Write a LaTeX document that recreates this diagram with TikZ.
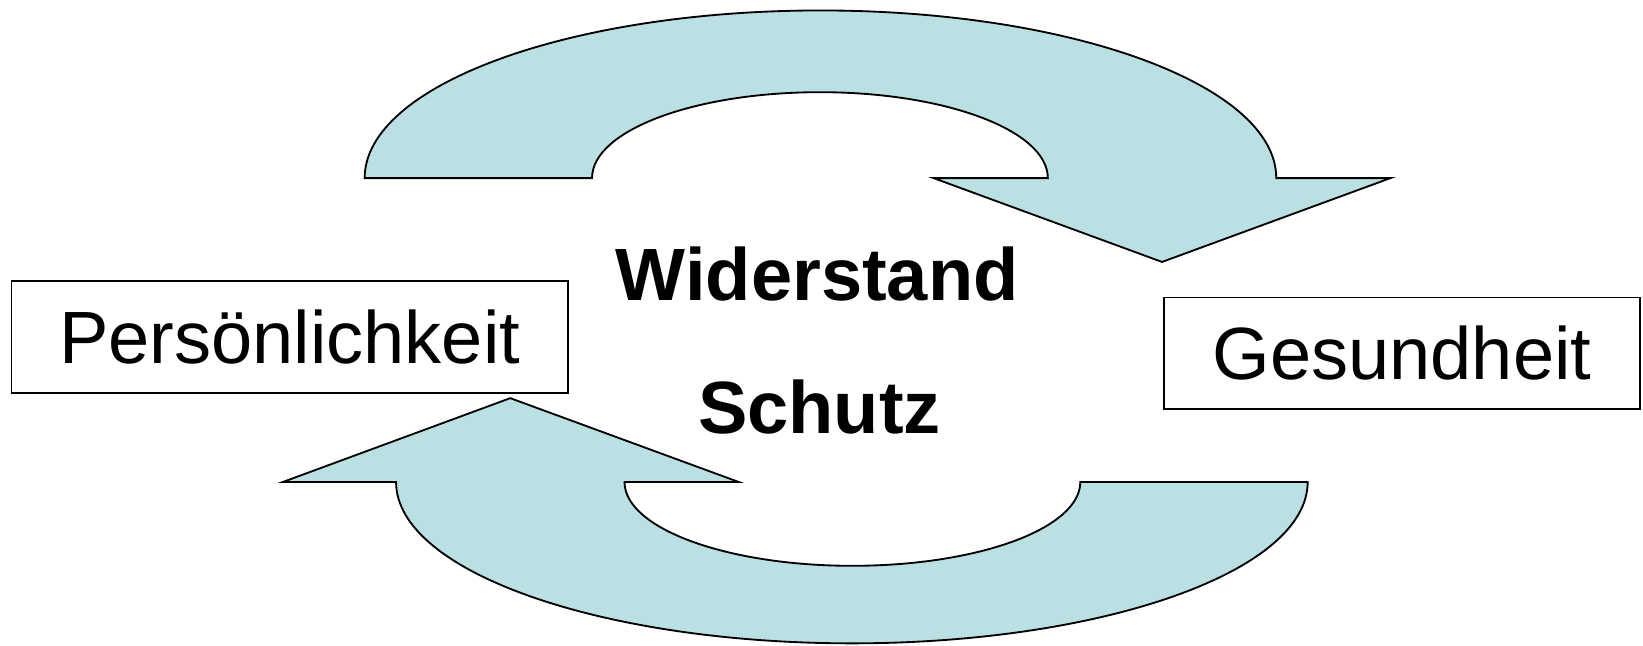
\documentclass[tikz,border=0pt]{standalone}
\usepackage{fontspec}
\setmainfont{Liberation Sans}
\definecolor{arrowfill}{RGB}{186,224,228}
\begin{document}
\begin{tikzpicture}[x=0.01cm,y=0.01cm,
  curvedarrow/.style={fill=arrowfill,draw=black,line width=0.5pt,line join=miter},
  labelbox/.style={draw=black,line width=0.5pt,inner sep=0pt,
    font=\fontsize{20.1}{24}\selectfont},
  keyword/.style={inner sep=0pt,anchor=base,
    font=\fontsize{20.1}{24}\selectfont\bfseries}]
\useasboundingbox (0,0) rectangle (1568,616);

% upper curved arrow, pointing down to the right
\draw[curvedarrow] (348,446) arc[start angle=180,end angle=0,x radius=435,y radius=160]
  -- (1327,446) -- (1109,366) -- (891,446) -- (1000,446)
  arc[start angle=0,end angle=180,x radius=217.5,y radius=82] -- cycle;

% lower curved arrow, pointing up to the left
\draw[curvedarrow] (1248,156) arc[start angle=0,end angle=-180,x radius=435,y radius=154]
  -- (270,156) -- (487,236) -- (705,156) -- (596,156)
  arc[start angle=180,end angle=360,x radius=217.5,y radius=80] -- cycle;

% boxed labels
\node[labelbox,minimum width=531*0.01cm,minimum height=107*0.01cm] (pers) at (276.5,294.5) {Persönlichkeit};
\node[labelbox,minimum width=454*0.01cm,minimum height=106*0.01cm] (ges) at (1338,279) {Gesundheit};

% centre words
\node[keyword] (wid) at (780,329) {Widerstand};
\node[keyword] (schutz) at (782,202) {Schutz};
\end{tikzpicture}
\end{document}
